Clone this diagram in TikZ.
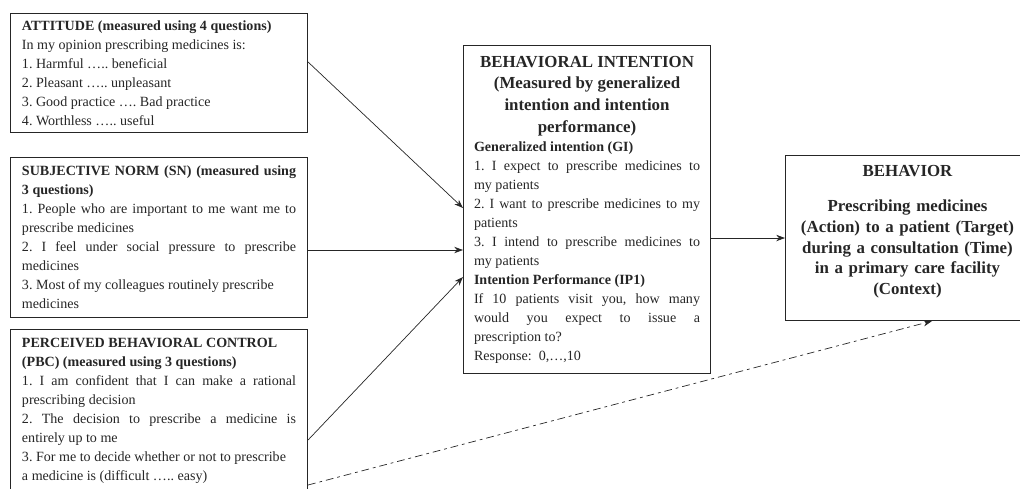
\documentclass[tikz,border=0pt]{standalone}
\usepackage{fontspec}
\setmainfont{Liberation Serif}
\usepackage{xcolor}
\usetikzlibrary{arrows.meta}
\definecolor{ink}{gray}{0.15}
\setlength{\parindent}{0pt}
\frenchspacing
\begin{document}
\hyphenpenalty=10000
\exhyphenpenalty=10000
\begin{tikzpicture}[
    x=0.025cm, y=-0.025cm,
    construct/.style={rectangle, draw=ink, line width=0.7pt, anchor=north west, text=ink, text width=6.85cm, inner xsep=0.2875cm, align=justify, font=\fontsize{10}{13.5}\selectfont},
    intention/.style={construct, text width=5.65cm, inner xsep=0.2625cm},
    outcome/.style={construct, text width=6cm, inner xsep=0.05cm, align=center, font=\fontsize{12}{14.7}\selectfont\bfseries},
    arrow/.style={-{Stealth[length=2.2mm, width=1.6mm]}, line width=0.5pt, draw=ink},
    dasharrow/.style={arrow, dash pattern=on 5.5pt off 2.8pt on 2pt off 2.8pt}
]
\useasboundingbox (0,0) rectangle (1020,488);

% Predictors
\node[construct, minimum height=2.975cm] (att) at (10,13) {{\bfseries ATTITUDE (measured using 4 questions)}\\
In my opinion prescribing medicines is:\\
1. Harmful ….. beneficial\\
2. Pleasant ….. unpleasant\\
3. Good practice …. Bad practice\\
4. Worthless ….. useful};

\node[construct, minimum height=4cm] (sn) at (10,157) {{\bfseries SUBJECTIVE NORM (SN) (measured using\linebreak 3 questions)}\\
1. People who are important to me want me to\linebreak prescribe medicines\\
2. I feel under social pressure to prescribe\linebreak medicines\\
3. Most of my colleagues routinely prescribe\\ medicines};

\node[construct, minimum height=4.05cm] (pbc) at (10,329) {{\bfseries PERCEIVED BEHAVIORAL CONTROL\\ (PBC) (measured using 3 questions)}\\
1. I am confident that I can make a rational\linebreak prescribing decision\\
2. The decision to prescribe a medicine is\linebreak entirely up to me\\
3. For me to decide whether or not to prescribe\\ a medicine is (difficult ….. easy)};

% Intention
\node[intention, minimum height=8.2cm] (bi) at (463,45) {{\centering\fontsize{12}{15.5}\selectfont\bfseries BEHAVIORAL INTENTION\\ (Measured by generalized\\ intention and intention\\ performance)\par}
{\bfseries Generalized intention (GI)}\\
1. I expect to prescribe medicines to\linebreak my patients\\
2. I want to prescribe medicines to my\linebreak patients\\
3. I intend to prescribe medicines to\linebreak my patients\\
{\bfseries Intention Performance (IP1)}\\
If 10 patients visit you, how many\linebreak would you expect to issue a\linebreak prescription to?\\
Response:\ \ 0,…,10};

% Behavior
\node[outcome, minimum height=4.125cm] (beh) at (785,155) {BEHAVIOR\\[0.375cm] Prescribing medicines\\ (Action) to a patient (Target)\\ during a consultation (Time)\\ in a primary care facility\\ (Context)\par\vspace{0.33cm}};

% Arrows
\draw[arrow] (att.east |- 0,62) -- (bi.west |- 0,208);
\draw[arrow] (sn.east |- 0,250) -- (bi.west |- 0,250);
\draw[arrow] (pbc.east |- 0,440) -- (bi.west |- 0,277);
\draw[arrow] (bi.east |- beh.west) -- (beh.west);
\draw[dasharrow] (pbc.east |- 0,485) -- (beh.south -| 932,0);

\end{tikzpicture}
\end{document}
